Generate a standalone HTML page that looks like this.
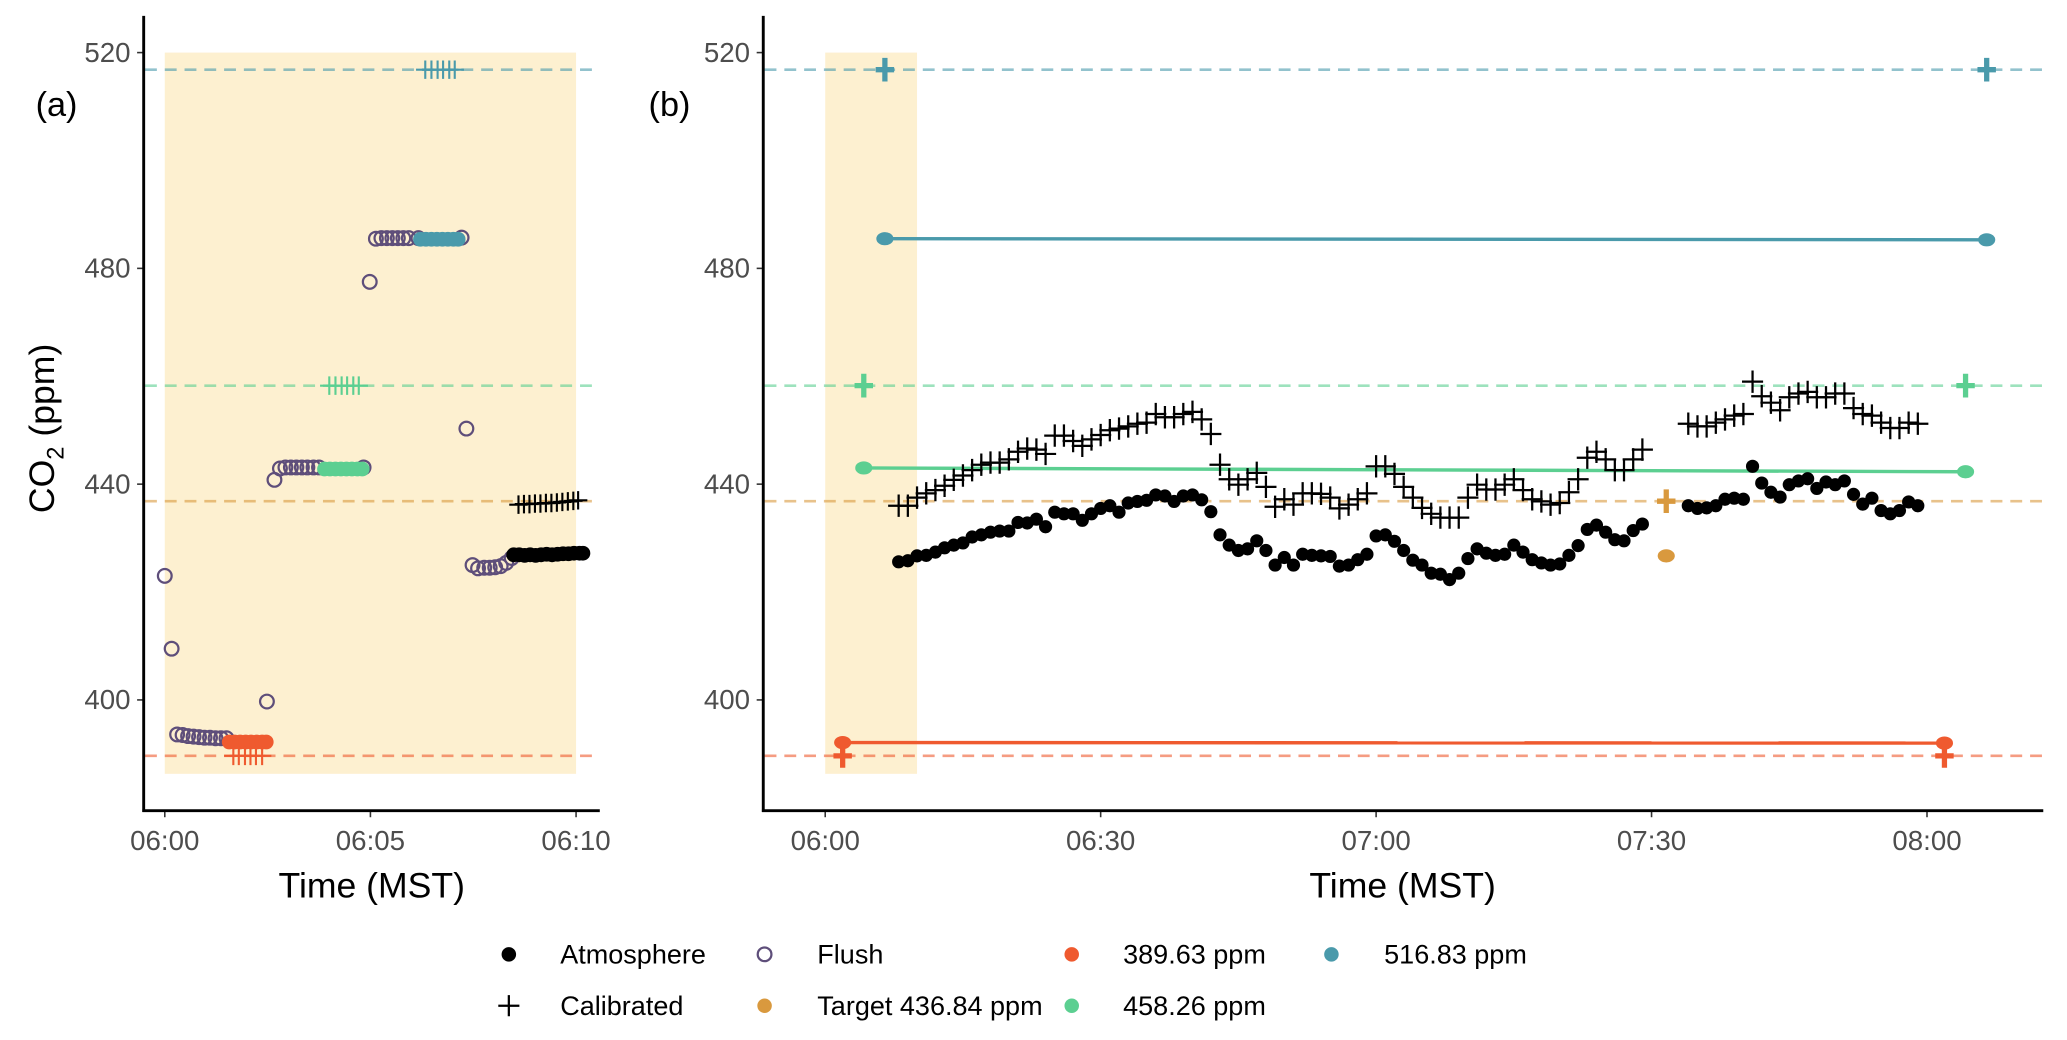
<!DOCTYPE html>
<html><head><meta charset="utf-8"><style>
html,body{margin:0;padding:0;background:#fff;}
svg{display:block;font-family:"Liberation Sans",Arial,sans-serif;}
</style></head><body>
<svg id="chart" width="2067" height="1040" viewBox="0 0 1568 789" preserveAspectRatio="none" xmlns="http://www.w3.org/2000/svg">
<rect x="0" y="0" width="1568" height="789" fill="#fff"/>
<g id="pa"></g>
<g id="pb"></g>
<g id="legend"></g>
</svg>
<script>
// ---- data ----
const yTicks = [400, 440, 480, 520];
const aTickSec = [0, 300, 600];
const aTickLabels = ["06:00", "06:05", "06:10"];
const bTickMin = [0, 30, 60, 90, 120];
const bTickLabels = ["06:00", "06:30", "07:00", "07:30", "08:00"];
const refLevels = [516.83, 458.26, 436.84, 389.63];
const refColors = ["#4a9aab", "#5ccf91", "#d9993e", "#ef5a2f"];

// panel a (seconds after 06:00)
const flushSecs = [0,10,18,26,34,42,50,58,66,74,82,90,149,160,168,176,184,192,200,208,217,225,290,299,308,316,324,332,340,348,356,370,433,440,449,457,466,474,482,490,498,506];
const flushVals = [423.0,409.5,393.6,393.5,393.3,393.2,393.1,393.0,393.0,392.9,392.9,392.9,399.7,440.8,442.9,443.1,443.1,443.1,443.1,443.1,443.1,443.1,443.1,477.5,485.5,485.6,485.6,485.6,485.6,485.6,485.6,485.6,485.7,450.3,425.0,424.4,424.5,424.5,424.6,424.8,425.4,426.3];
const redSec = [94,102,110,118,126,134,142,148];
const redVal = [392.2,392.2,392.2,392.2,392.2,392.2,392.2,392.2];
const redCalSec = [100,108,117,125,133,142];
const greenSec = [233,241,249,257,265,273,281,288];
const greenVal = [442.8,442.8,442.8,442.8,442.8,442.8,442.8,442.8];
const greenCalSec = [240,249,258,266,275,283];
const tealSec = [373,381,389,397,405,413,421,428];
const tealVal = [485.4,485.4,485.4,485.4,485.4,485.4,485.4,485.4];
const tealCalSec = [380,389,398,406,415,423];
const atmASec = [509,517,525,533,541,549,557,565,573,581,589,597,605,610];
const atmAVal = [426.9,426.9,426.8,426.9,426.8,426.9,427.0,426.9,427.0,427.1,427.1,427.2,427.2,427.2];
const calASec = [516,524,532,540,548,556,564,572,580,588,596,603];
const calAVal = [436.2,436.3,436.3,436.4,436.4,436.5,436.5,436.6,436.7,436.8,436.9,437.0];

// panel b (minutes after 06:00)
const atmMin = [8,9,10,11,12,13,14,15,16,17,18,19,20,21,22,23,24,25,26,27,28,29,30,31,32,33,34,35,36,37,38,39,40,41,42,43,44,45,46,47,48,49,50,51,52,53,54,55,56,57,58,59,60,61,62,63,64,65,66,67,68,69,70,71,72,73,74,75,76,77,78,79,80,81,82,83,84,85,86,87,88,89,94,95,96,97,98,99,100,101,102,103,104,105,106,107,108,109,110,111,112,113,114,115,116,117,118,119];
const atmVal = [425.6,425.8,426.7,426.8,427.4,428.2,428.7,429.1,430.2,430.6,431.1,431.3,431.3,432.9,432.8,433.5,432.1,434.8,434.5,434.5,433.3,434.5,435.5,436.0,434.8,436.5,436.8,437.0,438.0,437.8,436.8,437.8,438.0,437.1,434.9,430.6,428.7,427.7,428.0,429.5,427.7,425.0,426.4,425.0,427.0,426.8,426.7,426.6,424.8,425.0,426.0,427.0,430.4,430.6,429.4,427.7,425.9,425.0,423.5,423.3,422.3,423.5,426.2,428.0,427.2,426.8,427.0,428.7,427.4,426.0,425.4,425.0,425.2,426.8,428.6,431.6,432.4,431.1,429.7,429.5,431.4,432.6,436.0,435.5,435.6,436.0,437.2,437.4,437.2,443.3,440.2,438.5,437.6,439.9,440.6,441.0,439.2,440.4,439.9,440.6,438.1,436.3,437.4,435.1,434.5,435.1,436.7,436.0];
const calVal = [436.0,436.0,437.5,438.3,438.9,439.7,440.8,441.6,442.6,443.6,444.0,444.0,444.6,446.0,446.6,446.4,445.6,449.0,449.0,448.0,447.1,448.3,449.1,450.0,450.3,450.7,451.2,451.4,453.0,452.4,452.4,453.0,453.4,452.0,449.3,443.6,440.9,439.9,440.9,442.1,439.5,435.8,437.2,436.2,438.3,438.3,438.2,437.5,435.5,436.2,437.2,438.3,443.3,443.3,441.9,439.5,437.5,435.6,434.5,433.8,433.8,433.8,437.5,439.9,439.0,439.0,439.9,440.9,438.9,437.2,436.8,436.2,436.5,438.5,440.9,444.9,446.0,444.6,442.6,442.6,444.6,446.4,451.2,450.7,450.7,451.4,452.0,452.7,453.0,459.0,456.3,455.1,453.7,456.1,456.8,457.1,456.1,456.1,456.8,456.8,454.1,453.0,452.7,451.4,450.4,450.4,451.4,451.2];
const stdLineName = ["516.83 ppm","458.26 ppm","389.63 ppm"];
const stdLineStartMin = [6.5, 4.2, 1.9];
const stdLineEndMin = [126.5, 124.2, 121.9];
const stdLineStartVal = [485.5, 443.0, 392.1];
const stdLineEndVal = [485.3, 442.3, 392.0];
const stdCalVal = [516.83, 458.26, 389.63];
const stdColors = ["#4a9aab", "#5ccf91", "#ef5a2f"];
const targetMin = [91.6];
const targetVal = [426.7];
const targetCalVal = [436.84];

// ---- scales ----
function ay(v){ return 531 - (v - 400) * 4.0925; }
function ax(s){ return 125 + s / 600 * 312; }
function bx(m){ return 626 + m * 6.965; }
const NS = "http://www.w3.org/2000/svg";
function mk(parent, tag, attrs){
  const e = document.createElementNS(NS, tag);
  for (const k in attrs) e.setAttribute(k, attrs[k]);
  parent.appendChild(e);
  return e;
}
function dot(g, x, y, r, fill, name){
  const e = mk(g, "circle", {cx:x, cy:y, r:r, fill:fill});
  
  
  return e;
}
function ring(g, x, y, r, name){
  const e = mk(g, "circle", {cx:x, cy:y, r:r, fill:"none", stroke:"#5e4e7a", "stroke-width":1.7});
  
  
  return e;
}
function plus(g, x, y, h, v, col, sw, name){
  const e = mk(g, "path", {d:"M"+(x-h)+" "+y+"H"+(x+h)+"M"+x+" "+(y-v)+"V"+(y+v), stroke:col, "stroke-width":sw, fill:"none"});
  
  
  return e;
}
function txt(g, x, y, s, size, anchor, col, name){
  const e = mk(g, "text", {x:x, y:y, "font-size":size, "text-anchor":anchor, fill:col});
  e.textContent = s;
  
  
  return e;
}
function axes(g, x0, x1, tickXs, tickLabels){
  yTicks.forEach(function(v){
    const y = ay(v);
    const t = mk(g, "line", {x1:x0-5, x2:x0, y1:y, y2:y, stroke:"#333", "stroke-width":1.2});
    
    
    txt(g, x0-10, y+7, String(v), 21, "end", "#4d4d4d", "y-tick-label");
  });
  tickXs.forEach(function(x, i){
    const t = mk(g, "line", {x1:x, x2:x, y1:615, y2:620, stroke:"#333", "stroke-width":1.2});
    
    
    txt(g, x, 645, tickLabels[i], 21, "middle", "#4d4d4d", "x-tick-label");
  });
  const ya = mk(g, "line", {x1:x0, x2:x0, y1:12, y2:616, stroke:"#000", "stroke-width":2.2});
  
  
  const xa = mk(g, "line", {x1:x0-1, x2:x1, y1:615, y2:615, stroke:"#000", "stroke-width":2.2});
  
  
}
function refLines(g, x0, x1){
  refLevels.forEach(function(v, i){
    const l = mk(g, "line", {x1:x0+1, x2:x1, y1:ay(v), y2:ay(v), stroke:refColors[i], "stroke-opacity":0.6, "stroke-width":2, "stroke-dasharray":"9 6"});
    
    
  });
}

// ---- panel a ----
const pa = document.getElementById("pa");
const bandA = mk(pa, "rect", {x:ax(0), y:ay(520), width:ax(600)-ax(0), height:ay(386.3)-ay(520), fill:"#fdf0d0"});


refLines(pa, 109, 455);
flushSecs.forEach(function(s, i){ ring(pa, ax(s), ay(flushVals[i]), 5.2, "flush-point"); });
redSec.forEach(function(s, i){ dot(pa, ax(s), ay(redVal[i]), 5.6, "#ef5a2f", "std-389-point"); });
greenSec.forEach(function(s, i){ dot(pa, ax(s), ay(greenVal[i]), 5.6, "#5ccf91", "std-458-point"); });
tealSec.forEach(function(s, i){ dot(pa, ax(s), ay(tealVal[i]), 5.6, "#4a9aab", "std-516-point"); });
atmASec.forEach(function(s, i){ dot(pa, ax(s), ay(atmAVal[i]), 5.6, "#000", "atmosphere-point"); });
redCalSec.forEach(function(s){ plus(pa, ax(s), ay(389.63), 7, 7, "#ef5a2f", 1.6, "std-389-calibrated"); });
greenCalSec.forEach(function(s){ plus(pa, ax(s), ay(458.26), 7, 7, "#5ccf91", 1.6, "std-458-calibrated"); });
tealCalSec.forEach(function(s){ plus(pa, ax(s), ay(516.83), 7, 7, "#4a9aab", 1.6, "std-516-calibrated"); });
calASec.forEach(function(s, i){ plus(pa, ax(s), ay(calAVal[i]), 7, 7, "#000", 1.6, "calibrated-point"); });
axes(pa, 109, 455, aTickSec.map(ax), aTickLabels);
txt(pa, 27, 88, "(a)", 26, "start", "#000", "panel-a-label");
txt(pa, 282, 681, "Time (MST)", 27, "middle", "#000", "x-axis-title-a");
const yt = mk(pa, "text", {x:0, y:0, "font-size":27, "text-anchor":"middle", fill:"#000", transform:"translate(41,325) rotate(-90)"});


yt.innerHTML = 'CO<tspan font-size="18" dy="7">2</tspan><tspan dy="-7"> (ppm)</tspan>';

// ---- panel b ----
const pb = document.getElementById("pb");
const bandB = mk(pb, "rect", {x:bx(0), y:ay(520), width:bx(10)-bx(0), height:ay(386.3)-ay(520), fill:"#fdf0d0"});


refLines(pb, 579, 1550);
stdLineStartMin.forEach(function(m, i){
  const l = mk(pb, "line", {x1:bx(m), x2:bx(stdLineEndMin[i]), y1:ay(stdLineStartVal[i]), y2:ay(stdLineEndVal[i]), stroke:stdColors[i], "stroke-width":2.6});
  
  
  const e1 = mk(pb, "ellipse", {cx:bx(m), cy:ay(stdLineStartVal[i]), rx:6.5, ry:5, fill:stdColors[i]});
  
  
  const e2 = mk(pb, "ellipse", {cx:bx(stdLineEndMin[i]), cy:ay(stdLineEndVal[i]), rx:6.5, ry:5, fill:stdColors[i]});
  
  
  plus(pb, bx(m), ay(stdCalVal[i]), 7, 9, stdColors[i], 4, "std-calibrated");
  plus(pb, bx(stdLineEndMin[i]), ay(stdCalVal[i]), 7, 9, stdColors[i], 4, "std-calibrated");
});
targetMin.forEach(function(m, i){
  const e = mk(pb, "ellipse", {cx:bx(m), cy:ay(targetVal[i]), rx:6.5, ry:5, fill:"#d9993e"});
  
  
  plus(pb, bx(m), ay(targetCalVal[i]), 7, 9, "#d9993e", 4, "target-calibrated");
});
atmMin.forEach(function(m, i){ dot(pb, bx(m), ay(atmVal[i]), 5, "#000", "atmosphere-point"); });
atmMin.forEach(function(m, i){ plus(pb, bx(m), ay(calVal[i]), 8, 8.5, "#000", 1.7, "calibrated-point"); });
axes(pb, 579, 1550, bTickMin.map(bx), bTickLabels);
txt(pb, 492, 88, "(b)", 26, "start", "#000", "panel-b-label");
txt(pb, 1064, 681, "Time (MST)", 27, "middle", "#000", "x-axis-title-b");

// ---- legend ----
const lg = document.getElementById("legend");
dot(lg, 386, 724, 5.5, "#000", "legend-atmosphere-key");
txt(lg, 425, 731, "Atmosphere", 20.5, "start", "#000", "legend-atmosphere");
ring(lg, 580, 724, 5.2, "legend-flush-key");
txt(lg, 620, 731, "Flush", 20.5, "start", "#000", "legend-flush");
dot(lg, 813, 724, 5.5, "#ef5a2f", "legend-389-key");
txt(lg, 852, 731, "389.63 ppm", 20.5, "start", "#000", "legend-389");
dot(lg, 1010, 724, 5.5, "#4a9aab", "legend-516-key");
txt(lg, 1050, 731, "516.83 ppm", 20.5, "start", "#000", "legend-516");
plus(lg, 386, 763, 8, 8, "#000", 1.7, "legend-calibrated-key");
txt(lg, 425, 770, "Calibrated", 20.5, "start", "#000", "legend-calibrated");
dot(lg, 580, 763, 5.5, "#d9993e", "legend-target-key");
txt(lg, 620, 770, "Target 436.84 ppm", 20.5, "start", "#000", "legend-target");
dot(lg, 813, 763, 5.5, "#5ccf91", "legend-458-key");
txt(lg, 852, 770, "458.26 ppm", 20.5, "start", "#000", "legend-458");
</script>
</body></html>
